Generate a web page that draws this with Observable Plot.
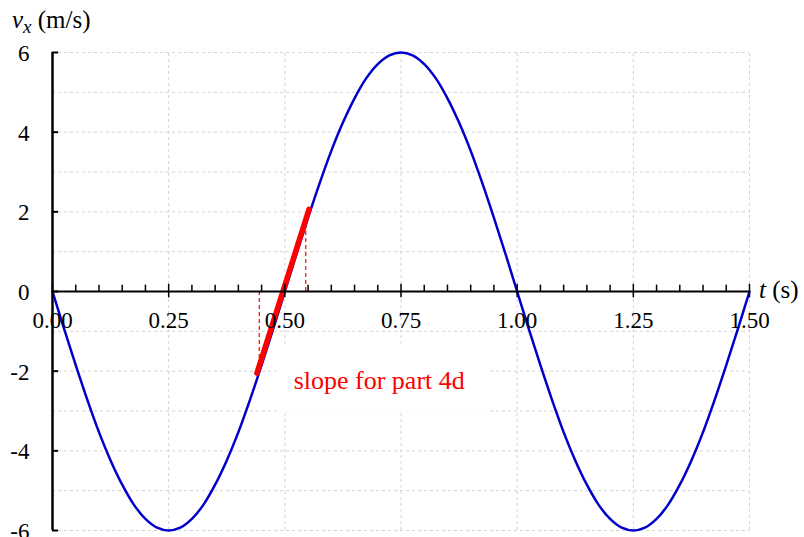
<!DOCTYPE html>
<html><head><meta charset="utf-8">
<script src="https://cdn.jsdelivr.net/npm/d3@7"></script>
<script src="https://cdn.jsdelivr.net/npm/@observablehq/plot@0.6"></script>
<style>body{margin:0;background:#fff;overflow:hidden} svg{display:block}</style>
</head><body><div id="chart"></div><script>
// velocity curve
const tValues = [0,0.025,0.05,0.075,0.1,0.125,0.15,0.175,0.2,0.225,0.25,0.275,0.3,0.325,0.35,0.375,0.4,0.425,0.45,0.475,
  0.5,0.525,0.55,0.575,0.6,0.625,0.65,0.675,0.7,0.725,0.75,0.775,0.8,0.825,0.85,0.875,0.9,0.925,0.95,0.975,
  1,1.025,1.05,1.075,1.1,1.125,1.15,1.175,1.2,1.225,1.25,1.275,1.3,1.325,1.35,1.375,1.4,1.425,1.45,1.475,1.5];
const vValues = [0,-0.94,-1.85,-2.72,-3.53,-4.24,-4.85,-5.35,-5.71,-5.93,-6,-5.93,-5.71,-5.35,-4.85,-4.24,-3.53,-2.72,-1.85,-0.94,
  0,0.94,1.85,2.72,3.53,4.24,4.85,5.35,5.71,5.93,6,5.93,5.71,5.35,4.85,4.24,3.53,2.72,1.85,0.94,
  0,-0.94,-1.85,-2.72,-3.53,-4.24,-4.85,-5.35,-5.71,-5.93,-6,-5.93,-5.71,-5.35,-4.85,-4.24,-3.53,-2.72,-1.85,-0.94,0];
const xMajorTicks = [0,0.25,0.5,0.75,1,1.25,1.5];
const xTickLabels = ["0.00","0.25","0.50","0.75","1.00","1.25","1.50"];
const xMinorTicks = [0.05,0.1,0.15,0.2,0.3,0.35,0.4,0.45,0.55,0.6,0.65,0.7,0.8,0.85,0.9,0.95,1.05,1.1,1.15,1.2,1.3,1.35,1.4,1.45];
const yMajorTicks = [-6,-4,-2,0,2,4,6];
const yTickLabels = ["-6","-4","-2","0","2","4","6"];
const yGridLines = [-6,-5,-4,-3,-2,-1,1,2,3,4,5,6];
// tangent (slope) annotation
const slopeT = [0.44,0.552];
const slopeV = [-2.05,2.06];
const dropT = [0.445,0.545];
const dropV = [-2.0,1.7];
const noteText = "slope for part 4d";
const noteT = 0.519, noteV = -2.25;
const noteBox = {t1:0.483, t2:0.94, v1:-1.38, v2:-3.03};

const curve = tValues.map((t,i)=>({t, v:vValues[i]}));
const slope = slopeT.map((t,i)=>({t, v:slopeV[i]}));
const drops = dropT.map((t,i)=>({t, v:dropV[i]}));
const xTicks = xMajorTicks.map((t,i)=>({t, label:xTickLabels[i]}));
const yTicks = yMajorTicks.map((v,i)=>({v, label:yTickLabels[i]}));

const serif = "Liberation Serif, Times New Roman, DejaVu Serif, serif";
const grid = {stroke:"#d4d4d4", strokeWidth:1, strokeDasharray:"3,3"};
const plot = Plot.plot({
  width:804, height:537,
  marginLeft:52, marginRight:55, marginTop:52, marginBottom:7,
  x:{domain:[0,1.5], axis:null},
  y:{domain:[-6,6], axis:null},
  style:{fontFamily:serif, background:"white", overflow:"visible"},
  marks:[
    Plot.ruleX(xMajorTicks.slice(1), {x:d=>d, y1:-6, y2:6, ...grid}),
    Plot.ruleY(yGridLines, {y:d=>d, x1:0, x2:1.5, ...grid}),
    Plot.rect([noteBox], {x1:"t1", x2:"t2", y1:"v1", y2:"v2", fill:"white"}),
    Plot.ruleX(drops, {x:"t", y1:0, y2:"v", stroke:"#ff0000", strokeWidth:1.2, strokeDasharray:"4,3"}),
    Plot.line(curve, {x:"t", y:"v", stroke:"#0000cc", strokeWidth:2.5, curve:"catmull-rom"}),
    Plot.line(slope, {x:"t", y:"v", stroke:"#ff0000", strokeWidth:5.5}),
    // x axis drawn at v = 0
    Plot.ruleY([0], {x1:0, x2:1.5, stroke:"black", strokeWidth:2}),
    Plot.ruleX(xMinorTicks, {x:d=>d, y1:0, y2:0.16, stroke:"black", strokeWidth:1.5}),
    Plot.ruleX(xMajorTicks, {x:d=>d, y1:-0.16, y2:0.18, stroke:"black", strokeWidth:1.5}),
    Plot.text(xTicks, {x:"t", y:0, text:"label", dy:29, fontSize:23, fill:"black", fontFamily:serif}),
    // y axis
    Plot.ruleX([0], {y1:-6, y2:6, stroke:"black", strokeWidth:2.5}),
    Plot.ruleY(yMajorTicks, {y:d=>d, x1:0, x2:0.013, stroke:"black", strokeWidth:2}),
    Plot.text(yTicks, {x:0, y:"v", text:"label", dx:-23, dy:1, textAnchor:"end", fontSize:23, fill:"black", fontFamily:serif}),
    Plot.text([noteText], {x:noteT, y:noteV, text:d=>d, textAnchor:"start", fontSize:26, fill:"#ff0000", fontFamily:serif})
  ]
});
document.getElementById("chart").appendChild(plot);
const svg = d3.select(plot);
const yl = svg.append("text").attr("x",12).attr("y",28).attr("text-anchor","start").attr("font-family",serif).attr("font-size",25).attr("fill","black");
yl.append("tspan").attr("font-style","italic").text("v");
yl.append("tspan").attr("font-style","italic").attr("font-size",19).attr("dy",5).text("x");
yl.append("tspan").attr("dy",-5).text(" (m/s)");
const xl = svg.append("text").attr("x",759).attr("y",298).attr("text-anchor","start").attr("font-family",serif).attr("font-size",25).attr("fill","black");
xl.append("tspan").attr("font-style","italic").text("t");
xl.append("tspan").text(" (s)");
</script></body></html>
